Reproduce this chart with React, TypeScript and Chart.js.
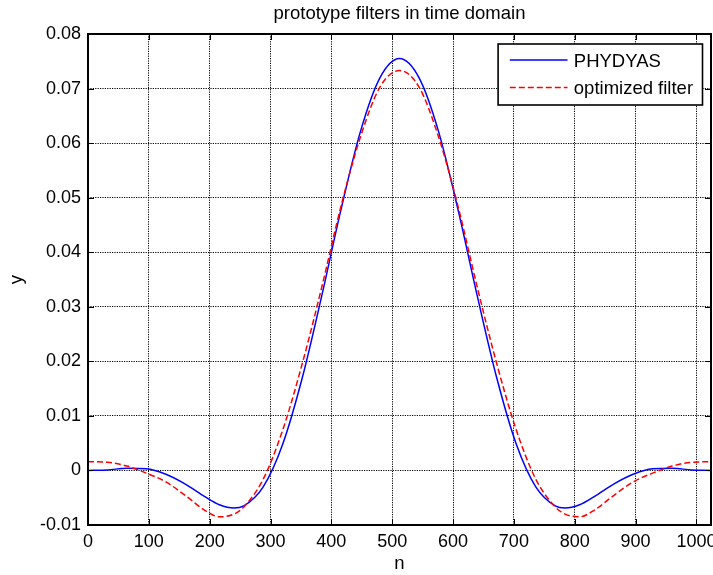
import { useEffect, useRef } from 'react';
import { Chart, registerables } from 'chart.js';

Chart.register(...registerables);

const titleText = 'prototype filters in time domain';
const xLabel = 'n';
const yLabel = 'y';
const seriesNames = ['PHYDYAS', 'optimized filter'];

const nValues = [
  0, 32, 64, 96, 128, 160, 192, 216, 240, 256, 288, 320, 352, 384, 416, 448, 480, 512,
  544, 576, 608, 640, 672, 704, 736, 768, 784, 808, 832, 864, 896, 928, 960, 992, 1024,
];

const phydyas = [
  0.0, 0.0001, 0.0004, 0.0003, -0.0007, -0.0025, -0.0048, -0.0063, -0.0069, -0.0065,
  -0.003, 0.0048, 0.0169, 0.0319, 0.0479, 0.0622, 0.072, 0.0755,
  0.072, 0.0622, 0.0479, 0.0319, 0.0169, 0.0048, -0.003, -0.0065, -0.0069, -0.0063,
  -0.0048, -0.0025, -0.0007, 0.0003, 0.0004, 0.0001, 0.0,
];

const optimized = [
  0.0016, 0.0015, 0.0008, -0.0005, -0.0021, -0.0046, -0.0073, -0.0085, -0.008, -0.0067,
  -0.0016, 0.0074, 0.0195, 0.0335, 0.0485, 0.0612, 0.0703, 0.0733,
  0.0703, 0.0612, 0.0485, 0.0335, 0.0195, 0.0074, -0.0016, -0.0067, -0.008, -0.0085,
  -0.0073, -0.0046, -0.0021, -0.0005, 0.0008, 0.0015, 0.0016,
];

const xTicks = [0, 100, 200, 300, 400, 500, 600, 700, 800, 900, 1000];
const yTicks = [-0.01, 0, 0.01, 0.02, 0.03, 0.04, 0.05, 0.06, 0.07, 0.08];

const FONT = "'Liberation Sans', Arial, Helvetica, sans-serif";

export default function App() {
  const ref = useRef<HTMLCanvasElement>(null);

  useEffect(() => {
    const canvas = ref.current;
    if (!canvas) return;

    const boxPlugin = {
      id: 'matlabBox',
      afterDraw(chart: any) {
        const { ctx, chartArea: a, scales } = chart;
        ctx.save();
        ctx.setLineDash([]);
        ctx.strokeStyle = '#000';
        ctx.lineWidth = 1;
        const len = 6;
        ctx.beginPath();
        for (const v of xTicks) {
          const x = Math.round(scales.x.getPixelForValue(v)) + 0.5;
          ctx.moveTo(x, a.bottom);
          ctx.lineTo(x, a.bottom - len);
          ctx.moveTo(x, a.top);
          ctx.lineTo(x, a.top + len);
        }
        for (const v of yTicks) {
          const y = Math.round(scales.y.getPixelForValue(v)) + 0.5;
          ctx.moveTo(a.left, y);
          ctx.lineTo(a.left + len, y);
          ctx.moveTo(a.right, y);
          ctx.lineTo(a.right - len, y);
        }
        ctx.stroke();
        ctx.lineWidth = 2;
        ctx.strokeRect(a.left, a.top, a.right - a.left, a.bottom - a.top);

        // legend box
        const bw = 204.4;
        const bh = 61;
        const bx = a.right - 8.5 - bw;
        const by = a.top + 10;
        ctx.fillStyle = '#fff';
        ctx.fillRect(bx, by, bw, bh);
        ctx.lineWidth = 1.6;
        ctx.strokeRect(bx, by, bw, bh);
        const rows = [
          { line: 16, text: 18.3 },
          { line: 43.5, text: 44.8 },
        ];
        chart.data.datasets.forEach((ds: any, i: number) => {
          const r = rows[i];
          ctx.save();
          ctx.strokeStyle = ds.borderColor;
          ctx.lineWidth = ds.borderWidth;
          ctx.setLineDash(ds.borderDash || []);
          ctx.beginPath();
          ctx.moveTo(bx + 11.7, by + r.line);
          ctx.lineTo(bx + 69.4, by + r.line);
          ctx.stroke();
          ctx.restore();
          ctx.fillStyle = '#000';
          ctx.font = `18.5px ${FONT}`;
          ctx.textAlign = 'left';
          ctx.textBaseline = 'middle';
          ctx.fillText(ds.label, bx + 75.7, by + r.text);
        });
        ctx.restore();
      },
    };

    const chart = new Chart(canvas, {
      type: 'line',
      data: {
        datasets: [
          {
            label: seriesNames[0],
            data: nValues.map((n, i) => ({ x: n, y: phydyas[i] })),
            borderColor: '#0000ff',
            borderWidth: 1.5,
            pointRadius: 0,
            cubicInterpolationMode: 'monotone',
            fill: false,
            order: 2,
          },
          {
            label: seriesNames[1],
            data: nValues.map((n, i) => ({ x: n, y: optimized[i] })),
            borderColor: '#ff0000',
            borderWidth: 1.5,
            borderDash: [6, 3],
            pointRadius: 0,
            cubicInterpolationMode: 'monotone',
            fill: false,
            order: 1,
          },
        ],
      },
      options: {
        responsive: false,
        animation: false,
        events: [],
        layout: { padding: { left: 0, right: 2, top: 0, bottom: 0 } },
        plugins: {
          legend: { display: false },
          tooltip: { enabled: false },
          title: {
            display: true,
            fullSize: false,
            text: titleText,
            color: '#000',
            font: { family: FONT, size: 18.5, weight: 'normal' },
            padding: { top: 2.5, bottom: 9.3 },
          },
        },
        scales: {
          x: {
            type: 'linear',
            min: 0,
            max: 1024,
            afterBuildTicks: (s: any) => {
              s.ticks = xTicks.map((v) => ({ value: v }));
            },
            afterFit: (s: any) => {
              s.height = 50;
              s.paddingLeft = 0;
              s.paddingRight = 0;
            },
            ticks: {
              color: '#000',
              font: { family: FONT, size: 18 },
              padding: 6,
              maxRotation: 0,
              autoSkip: false,
              callback: (v: any) => String(v),
            },
            grid: { color: '#000', lineWidth: 1, drawTicks: false },
            border: { display: false, dash: [1.2, 1.2] },
            title: {
              display: true,
              text: xLabel,
              color: '#000',
              font: { family: FONT, size: 18.5 },
              padding: { top: 0, bottom: 0 },
            },
          },
          y: {
            type: 'linear',
            min: -0.01,
            max: 0.08,
            afterBuildTicks: (s: any) => {
              s.ticks = yTicks.map((v) => ({ value: v }));
            },
            afterFit: (s: any) => {
              s.width = 88;
              s.paddingTop = 0;
              s.paddingBottom = 0;
            },
            ticks: {
              color: '#000',
              font: { family: FONT, size: 18 },
              padding: 7,
              autoSkip: false,
              callback: (v: any) => (Math.abs(v) < 1e-12 ? '0' : Number(v).toFixed(2)),
            },
            grid: { color: '#000', lineWidth: 1, drawTicks: false },
            border: { display: false, dash: [1.2, 1.2] },
            title: {
              display: true,
              text: yLabel,
              color: '#000',
              font: { family: FONT, size: 18.5 },
              padding: { top: 6, bottom: 0 },
            },
          },
        },
      } as any,
      plugins: [boxPlugin],
    });

    return () => chart.destroy();
  }, []);

  return (
    <div style={{ position: 'absolute', left: 0, top: 0, width: 713, height: 575, background: '#fff' }}>
      <canvas ref={ref} width={713} height={575} style={{ display: 'block', width: 713, height: 575 }} />
    </div>
  );
}
